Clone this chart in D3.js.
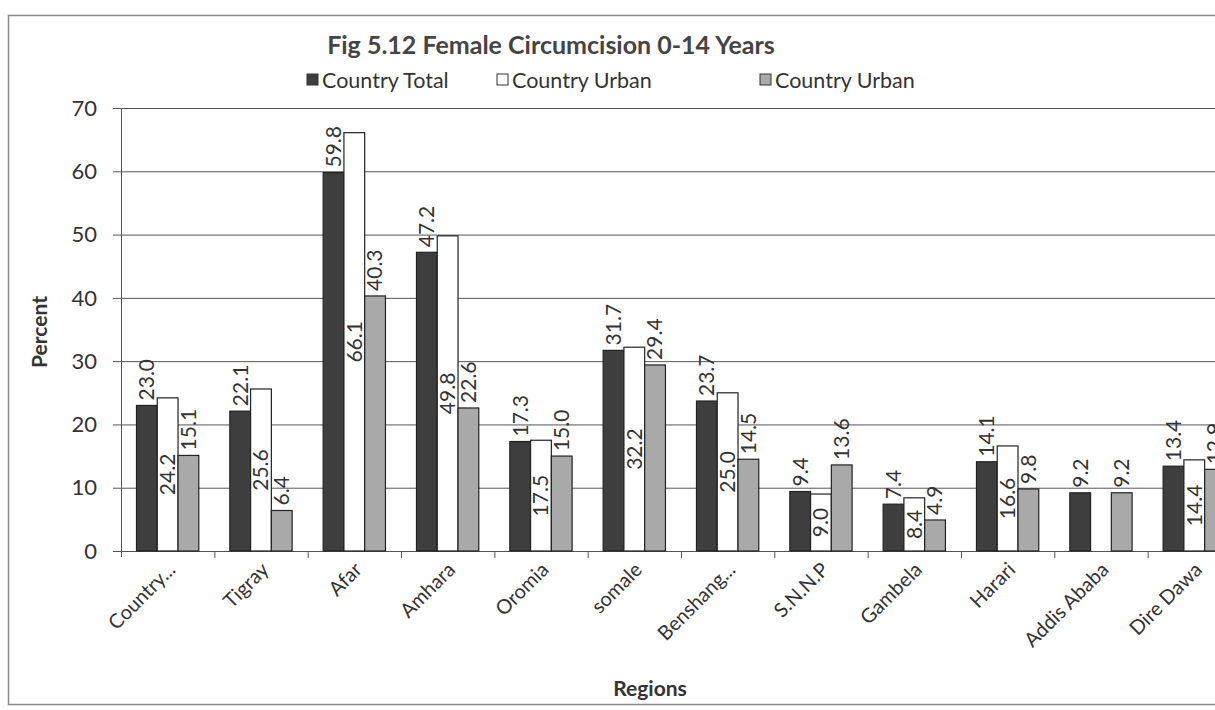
<!DOCTYPE html>
<html><head><meta charset="utf-8">
<script src="https://cdn.jsdelivr.net/npm/d3@7"></script>
<style>
body{margin:0;background:#fff;}
svg{display:block;font-family:Lato,"Open Sans",sans-serif;}
</style></head>
<body>
<svg id="c" width="1215" height="710"></svg>
<script>
const categories = ["Country...","Tigray","Afar","Amhara","Oromia","somale","Benshang...","S.N.N.P","Gambela","Harari","Addis Ababa","Dire Dawa"];
const seriesNames = ["Country Total","Country Urban","Country Urban"];
const countryTotal = [23.0,22.1,59.8,47.2,17.3,31.7,23.7,9.4,7.4,14.1,9.2,13.4];
const countryUrban = [24.2,25.6,66.1,49.8,17.5,32.2,25.0,9.0,8.4,16.6,null,14.4];
const countryRural = [15.1,6.4,40.3,22.6,15.0,29.4,14.5,13.6,4.9,9.8,9.2,12.9];
const yTicks = [0,10,20,30,40,50,60,70];

const svg = d3.select("#c");
const fills = ["#3e3e3e","#ffffff","#a9a9a9"];
const labelPos = ["out","center","out"];
const series = [countryTotal, countryUrban, countryRural];

// outer frame (right side cropped)
svg.append("rect").attr("x",8.5).attr("y",15.5).attr("width",1240).attr("height",689)
  .attr("fill","none").attr("stroke","#8a8a8a").attr("stroke-width",1.5);

const left = 121, bandW = 93.33;
const x0 = d3.scaleBand().domain(categories).range([left, left + bandW*categories.length]).padding(0);
const x1 = d3.scaleBand().domain([0,1,2]).range([15.5, 77.8]).padding(0);
const y = d3.scaleLinear().domain([0,70]).range([551,108]);

// gridlines
svg.append("g").selectAll("line").data(yTicks).join("line")
  .attr("x1",113).attr("x2",1215).attr("y1",d=>y(d)+0.5).attr("y2",d=>y(d)+0.5)
  .attr("stroke","#555").attr("stroke-width",1);

// y tick labels
svg.append("g").selectAll("text").data(yTicks).join("text")
  .attr("x",97).attr("y",d=>y(d)).attr("dy","0.35em").attr("text-anchor","end")
  .attr("font-size",22).attr("fill","#333").text(d=>d);

// y axis line
svg.append("line").attr("x1",left+0.5).attr("x2",left+0.5).attr("y1",y(70)).attr("y2",y(0)+6)
  .attr("stroke","#555").attr("stroke-width",1);

// x ticks
svg.append("g").selectAll("line").data(categories.slice(1)).join("line")
  .attr("x1",d=>x0(d)+0.5).attr("x2",d=>x0(d)+0.5).attr("y1",y(0)).attr("y2",y(0)+7)
  .attr("stroke","#555");

// bars
series.forEach((vals,si)=>{
  const g = svg.append("g");
  g.selectAll("rect").data(categories.map((c,i)=>({c,v:vals[i]})).filter(d=>d.v!=null)).join("rect")
    .attr("x",d=>x0(d.c)+x1(si)).attr("width",x1.bandwidth())
    .attr("y",d=>y(d.v)).attr("height",d=>y(0)-y(d.v))
    .attr("fill",fills[si]).attr("stroke","#222").attr("stroke-width",1.2);
  g.selectAll("text").data(categories.map((c,i)=>({c,v:vals[i]})).filter(d=>d.v!=null)).join("text")
    .attr("transform",d=>{
      const cx = x0(d.c)+x1(si)+x1.bandwidth()/2;
      const cy = labelPos[si]==="out" ? y(d.v)-5 : (y(d.v)+y(0))/2;
      return `translate(${cx},${cy}) rotate(-90)`;
    })
    .attr("text-anchor",labelPos[si]==="out"?"start":"middle")
    .attr("dy","0.35em")
    .attr("font-size",21).attr("fill","#333")
    .text(d=>d.v.toFixed(1));
});

// category labels
svg.append("g").selectAll("text").data(categories).join("text")
  .attr("transform",d=>`translate(${x0(d)+bandW/2+4},${566}) rotate(-45)`)
  .attr("text-anchor","end").attr("dy","0.35em")
  .attr("font-size",20).attr("fill","#333").text(d=>d);

// axis titles
svg.append("text").attr("x",650).attr("y",696).attr("text-anchor","middle")
  .attr("font-size",21).attr("font-weight","bold").attr("fill","#333").text("Regions");
svg.append("text").attr("transform","translate(47,332) rotate(-90)").attr("text-anchor","middle")
  .attr("font-size",21).attr("font-weight","bold").attr("fill","#333").text("Percent");

// title
svg.append("text").attr("x",551).attr("y",54).attr("text-anchor","middle")
  .attr("font-size",25).attr("font-weight","bold").attr("fill","#444")
  .text("Fig 5.12 Female Circumcision 0-14 Years");

// legend
const legX = [307,497,760];
seriesNames.forEach((n,i)=>{
  svg.append("rect").attr("x",legX[i]).attr("y",74).attr("width",11).attr("height",11)
    .attr("fill",fills[i]).attr("stroke","#333").attr("stroke-width",1);
  svg.append("text").attr("x",legX[i]+15).attr("y",80).attr("dy","0.35em")
    .attr("font-size",21.5).attr("fill","#333").text(n);
});
</script>
</body></html>
